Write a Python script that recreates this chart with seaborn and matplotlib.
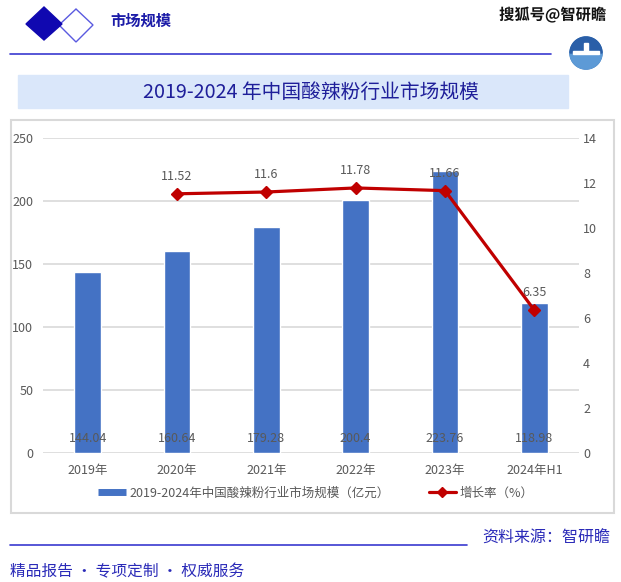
import numpy as np
import pandas as pd
import matplotlib
matplotlib.use("Agg")
import matplotlib.pyplot as plt
from matplotlib.patches import Rectangle, Polygon, Circle, Wedge
from matplotlib.lines import Line2D
import matplotlib.patheffects as pe
import seaborn as sns

# ---- data ----
categories = ["2019年", "2020年", "2021年", "2022年", "2023年", "2024年H1"]
market_size = [144.04, 160.64, 179.28, 200.4, 223.76, 118.98]
growth_rate = [np.nan, 11.52, 11.6, 11.78, 11.66, 6.35]
left_ticks = [0, 50, 100, 150, 200, 250]
right_ticks = [0, 2, 4, 6, 8, 10, 12, 14]
title = "2019-2024 年中国酸辣粉行业市场规模"
bar_label = "2019-2024年中国酸辣粉行业市场规模（亿元）"
line_label = "增长率（%）"

sns.set_theme(style="white")
plt.rcParams["font.family"] = ["Noto Sans CJK SC", "DejaVu Sans"]

W, H = 621, 582
fig = plt.figure(figsize=(W / 100, H / 100), dpi=100)
fig.patch.set_facecolor("white")

# overlay for decorations (pixel coords)
ov = fig.add_axes([0, 0, 1, 1], zorder=0)
ov.set_xlim(0, W)
ov.set_ylim(H, 0)
ov.axis("off")

navy = "#1008b0"
txtblue = "#2a2ab8"
# header diamonds
ov.add_patch(Polygon([(26, 24), (44, 7), (62, 24), (44, 40)], closed=True, color=navy, zorder=3))
ov.add_patch(Polygon([(59, 25), (76, 9), (93, 25), (76, 42)], closed=True,
                     fill=False, edgecolor="#5a5ae0", lw=1, zorder=2))
ov.text(110, 21, "市场规模", fontsize=11, fontweight="bold", color="#1c1ca8", va="center")
ov.plot([10, 551], [54, 54], color="#3a3ad0", lw=1.2)
ov.text(606, 15, "搜狐号@智研瞻", fontsize=11, color="#111111", ha="right", va="center",
        fontweight="bold",
        path_effects=[pe.withStroke(linewidth=1.5, foreground="white")])
ov.add_patch(Circle((586, 53), 16, color="#2f6db5"))
ov.add_patch(Wedge((586, 53), 16, 0, 180, color="#5d9ad6"))
ov.add_patch(Wedge((586, 53), 16, 180, 360, color="#2a5fa8"))
ov.add_patch(Rectangle((573, 51), 26, 3, color="white"))
ov.add_patch(Rectangle((584, 43), 4, 8, color="white"))

# chart frame
ov.add_patch(Rectangle((11, 120), 603, 393, fill=False, edgecolor="#d9d9d9", lw=1.5))
# title box
ov.add_patch(Rectangle((18, 75), 550, 33, color="#dae7fa"))
ov.text(311, 92, title, fontsize=14.2, color="#1f1f9a", ha="center", va="center")

# footer
ov.plot([10, 467], [545, 545], color="#3a3ad0", lw=1.2)
ov.text(610, 538, "资料来源：智研瞻", fontsize=11.5, color=txtblue, ha="right", va="center")
ov.text(10, 572, "精品报告 • 专项定制 • 权威服务", fontsize=11.3, color=txtblue,
        ha="left", va="center")

# ---- main chart ----
ax = fig.add_axes([43 / W, 1 - 453 / H, (579 - 43) / W, (453 - 138) / H], zorder=1)
ax.set_facecolor("none")
df = pd.DataFrame({"cat": categories, "size": market_size, "growth": growth_rate})
sns.barplot(data=df, x="cat", y="size", color="#4472c4", saturation=1, width=0.30, ax=ax,
            zorder=2)
ax.set_ylim(0, 250)
ax.set_xlim(-0.5, len(categories) - 0.5)
ax.set_yticks(left_ticks)
ax.set_xlabel("")
ax.set_ylabel("")
ax.grid(axis="y", color="#d9d9d9", lw=1.2, zorder=0)
ax.set_axisbelow(True)
for s in ax.spines.values():
    s.set_visible(False)
ax.tick_params(axis="both", length=0, colors="#595959", labelsize=9)
ax.tick_params(axis="x", pad=8)
ax.tick_params(axis="y", pad=7)

for i, v in enumerate(market_size):
    ax.annotate(f"{v:g}", (i, 0), xytext=(0, 6), textcoords="offset points",
                ha="center", va="bottom", fontsize=9, color="#595959", zorder=5)

ax2 = ax.twinx()
xs = np.arange(len(categories))
ax2.plot(xs, df["growth"], color="#c00000", lw=2.3, marker="D", markersize=6, zorder=4)
ax2.set_ylim(0, 14)
ax2.set_yticks(right_ticks)
for s in ax2.spines.values():
    s.set_visible(False)
ax2.tick_params(axis="y", length=0, colors="#595959", labelsize=9, pad=3)
ax2.grid(False)
for x, g in zip(xs, growth_rate):
    if not np.isnan(g):
        ax2.annotate(f"{g:g}", (x, g), xytext=(0, 8), textcoords="offset points",
                     ha="center", va="bottom", fontsize=9, color="#595959")

handles = [Line2D([], [], color="#4472c4", lw=5, solid_capstyle="butt"),
           Line2D([], [], color="#c00000", lw=2.3, marker="D", markersize=5)]
fig.legend(handles, [bar_label, line_label], loc="center", bbox_to_anchor=(316 / W, 1 - 493 / H),
           ncol=2, frameon=False, fontsize=9, handlelength=2.2, columnspacing=3.1,
           handletextpad=0.3, labelcolor="#595959")

fig.savefig("out.png", dpi=100, facecolor="white")
